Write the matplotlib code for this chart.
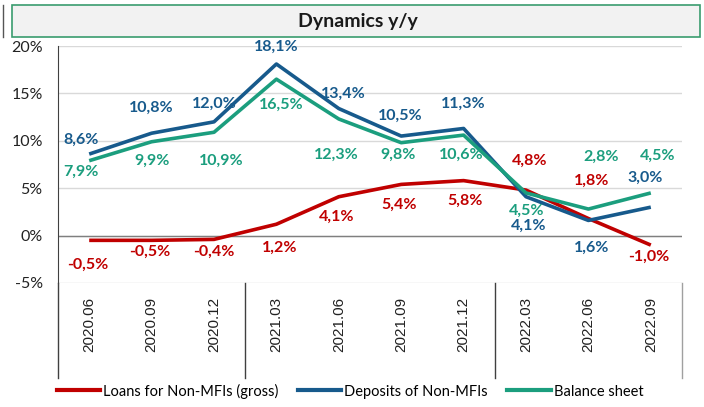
import matplotlib
matplotlib.use('Agg')
import matplotlib.pyplot as plt
from matplotlib.patches import Rectangle
from matplotlib.lines import Line2D
import matplotlib.transforms as mtransforms

# --- data ---
periods = ["2020.06", "2020.09", "2020.12", "2021.03", "2021.06",
           "2021.09", "2021.12", "2022.03", "2022.06", "2022.09"]
loans = [-0.5, -0.5, -0.4, 1.2, 4.1, 5.4, 5.8, 4.8, 1.8, -1.0]
deposits = [8.6, 10.8, 12.0, 18.1, 13.4, 10.5, 11.3, 4.1, 1.6, 3.0]
balance = [7.9, 9.9, 10.9, 16.5, 12.3, 9.8, 10.6, 4.5, 2.8, 4.5]
series_names = ["Loans for Non-MFIs (gross)", "Deposits of Non-MFIs", "Balance sheet"]

# label offsets in pixels (dx, dy), positive dy = up
loans_off = [(-1, -24), (-2, -11), (0, -12), (3, -24), (-2, -20),
             (-2, -20), (1, -20), (4, 29), (3, 38), (-2, -12)]
deposits_off = [(-8, 14), (0, 25), (0, 18), (0, 17), (5, 15),
                (-1, 20), (0, 25), (3, -29), (3, -27), (-6, 29)]
balance_off = [(-8, -11), (0, -19), (7, -29), (5, -26), (-2, -36),
               (-3, -12), (-2, -20), (1, -18), (13, 52), (7, 37)]

RED = '#c00000'
BLUE = '#175a8c'
GREEN = '#1b9e7e'
FONT = ['Lato', 'DejaVu Sans']

plt.rcParams['font.family'] = FONT

W, H = 704, 407
fig = plt.figure(figsize=(W / 100, H / 100), dpi=100)

# title box
fig.patches.append(Rectangle((12 / W, 1 - 37 / H), 688 / W, 32 / H,
                             transform=fig.transFigure, facecolor='#f2f2f2',
                             edgecolor='#3a9c6e', linewidth=1.2))
fig.text(358 / W, 1 - 21 / H, "Dynamics y/y", ha='center', va='center',
         fontsize=14, fontweight='bold', color='#1a1a1a')
fig.lines.append(Line2D([3 / W, 3 / W], [1 - 5 / H, 1 - 37 / H],
                        transform=fig.transFigure, color='#555555', lw=1))

left, right, top, bottom = 58, 682, 46, 283
ax = fig.add_axes([left / W, 1 - bottom / H, (right - left) / W, (bottom - top) / H])

x = list(range(len(periods)))
ax.plot(x, loans, color=RED, lw=2.6, solid_capstyle='butt', zorder=3)
ax.plot(x, deposits, color=BLUE, lw=2.6, solid_capstyle='butt', zorder=4)
ax.plot(x, balance, color=GREEN, lw=2.6, solid_capstyle='butt', zorder=5)

for vals, offs, col in [(loans, loans_off, RED), (deposits, deposits_off, BLUE),
                        (balance, balance_off, GREEN)]:
    for i, (v, (dx, dy)) in enumerate(zip(vals, offs)):
        ax.annotate(f"{v:.1f}%".replace('.', ','), (i, v), xytext=(dx, dy),
                    textcoords='offset pixels', ha='center', va='center',
                    fontsize=11.5, fontweight='bold', color=col, zorder=6)

ax.set_xlim(-0.5, len(periods) - 0.5)
ax.set_ylim(-5, 20)
ax.set_yticks([-5, 0, 5, 10, 15, 20])
ax.set_yticklabels([f"{t}%" for t in [-5, 0, 5, 10, 15, 20]], fontsize=11.5, color='#222222')
ax.yaxis.grid(True, color='#d9d9d9', lw=1)
ax.axhline(0, color='#7f7f7f', lw=1, zorder=2)
ax.set_axisbelow(True)
for s in ['top', 'right', 'bottom']:
    ax.spines[s].set_visible(False)
ax.spines['left'].set_color('#404040')
ax.tick_params(axis='y', length=0, pad=11)
ax.tick_params(axis='x', length=0, pad=10)
ax.set_xticks(x)
ax.set_xticklabels(periods, rotation=90, fontsize=11, color='#222222',
                   family=['Liberation Sans', 'DejaVu Sans'], va='top')

# category separators below the plot
trans = mtransforms.blended_transform_factory(ax.transData, ax.transAxes)
ext = -(378 - bottom) / (bottom - top)
for xs in [-0.5, 2.5, 6.5, 9.5]:
    ax.add_line(Line2D([xs, xs], [0, ext], transform=trans, color='#404040' if xs != 9.5 else '#a0a0a0',
                       lw=1, clip_on=False))

handles = [Line2D([], [], color=c, lw=3) for c in [RED, BLUE, GREEN]]
fig.legend(handles, series_names, loc='center', bbox_to_anchor=(350 / W, 1 - 391 / H),
           ncol=3, frameon=False, fontsize=10.5, handlelength=3.0, handletextpad=0.2,
           columnspacing=1.3)

fig.savefig('out.png', dpi=100)
